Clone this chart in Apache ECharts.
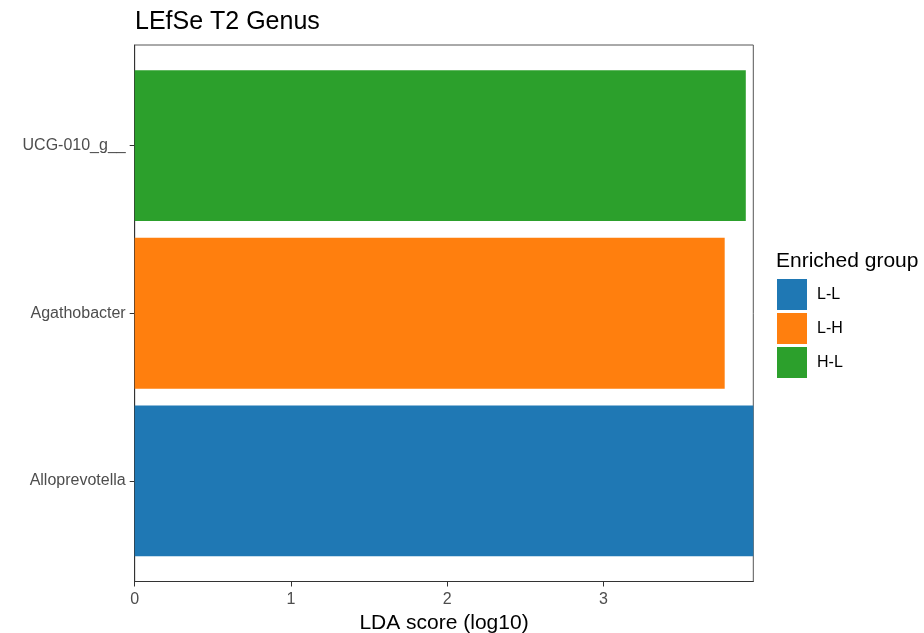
<!DOCTYPE html>
<html>
<head>
<meta charset="utf-8">
<script src="https://cdn.jsdelivr.net/npm/echarts@6/dist/echarts.min.js"></script>
<style>
  html, body { margin: 0; padding: 0; background: #fff; }
  #chart { width: 924px; height: 633px; }
</style>
</head>
<body>
<div id="chart"></div>
<script>
// 类别（自下而上）与 LDA 分值
var taxa = ['Alloprevotella', 'Agathobacter', 'UCG-010_g__'];
var ldaScores = [3.958, 3.775, 3.91];
var groups = ['L-L', 'L-H', 'H-L'];
var groupColors = ['#1F78B4', '#FF7F0E', '#2CA02C'];
var xTicks = [0, 1, 2, 3];

var myChart = echarts.init(document.getElementById('chart'));

// ggplot 的离散轴：位置 1..n，两端各扩 0.6
var yPos = taxa.map(function (t, i) { return i + 1; });

function renderBar(params, api) {
    var y = api.value(0);
    var v = api.value(1);
    var p0 = api.coord([0, y + 0.45]);
    var p1 = api.coord([v, y - 0.45]);
    return {
        type: 'rect',
        shape: { x: p0[0], y: p0[1], width: p1[0] - p0[0], height: p1[1] - p0[1] },
        style: { fill: api.visual('color') }
    };
}

var series = groups.map(function (g, i) {
    return {
        name: g,
        type: 'custom',
        renderItem: renderBar,
        itemStyle: { color: groupColors[i] },
        encode: { x: 1, y: 0 },
        data: [[yPos[i], ldaScores[i]]]
    };
});

var option = {
    animation: false,
    title: [{
        text: 'LEfSe T2 Genus',
        left: 130,
        top: 5,
        textStyle: { fontFamily: 'Liberation Sans', fontSize: 25, fontWeight: 'normal', color: '#000' }
    }, {
        text: 'Enriched group',
        left: 771,
        top: 246,
        textStyle: { fontFamily: 'Liberation Sans', fontSize: 21, fontWeight: 'normal', color: '#000' }
    }],
    legend: {
        orient: 'vertical',
        left: 772,
        top: 274,
        icon: 'rect',
        itemWidth: 30,
        itemHeight: 31,
        itemGap: 3,
        data: groups,
        textStyle: { fontFamily: 'Liberation Sans', fontSize: 16, color: '#000', padding: [0, 0, 0, 5] }
    },
    grid: {
        left: 134.7,
        right: 170.7,
        top: 45,
        bottom: 51.5,
        show: true,
        borderColor: '#555',
        borderWidth: 1,
        containLabel: false,
        outerBoundsMode: 'none'
    },
    xAxis: {
        type: 'value',
        min: 0,
        max: ldaScores[0],
        interval: 1,
        name: 'LDA score (log10)',
        nameLocation: 'middle',
        nameGap: 30,
        nameTextStyle: { fontFamily: 'Liberation Sans', fontSize: 21, color: '#000' },
        axisLine: { show: true, lineStyle: { color: '#333' } },
        axisTick: { show: true, length: 5, lineStyle: { color: '#333' }, customValues: xTicks },
        axisLabel: { fontFamily: 'Liberation Sans', fontSize: 16, color: '#4d4d4d', margin: 10, customValues: xTicks },
        splitLine: { show: false }
    },
    yAxis: {
        type: 'value',
        min: 0.4,
        max: taxa.length + 0.6,
        axisLine: { show: true, lineStyle: { color: '#333' } },
        axisTick: { show: true, length: 5, lineStyle: { color: '#333' }, customValues: yPos },
        axisLabel: {
            fontFamily: 'Liberation Sans', fontSize: 16, color: '#4d4d4d', margin: 9,
            customValues: yPos,
            formatter: function (v) { return taxa[Math.round(v) - 1] || ''; }
        },
        splitLine: { show: false }
    },
    series: series
};

myChart.setOption(option);
</script>
</body>
</html>
